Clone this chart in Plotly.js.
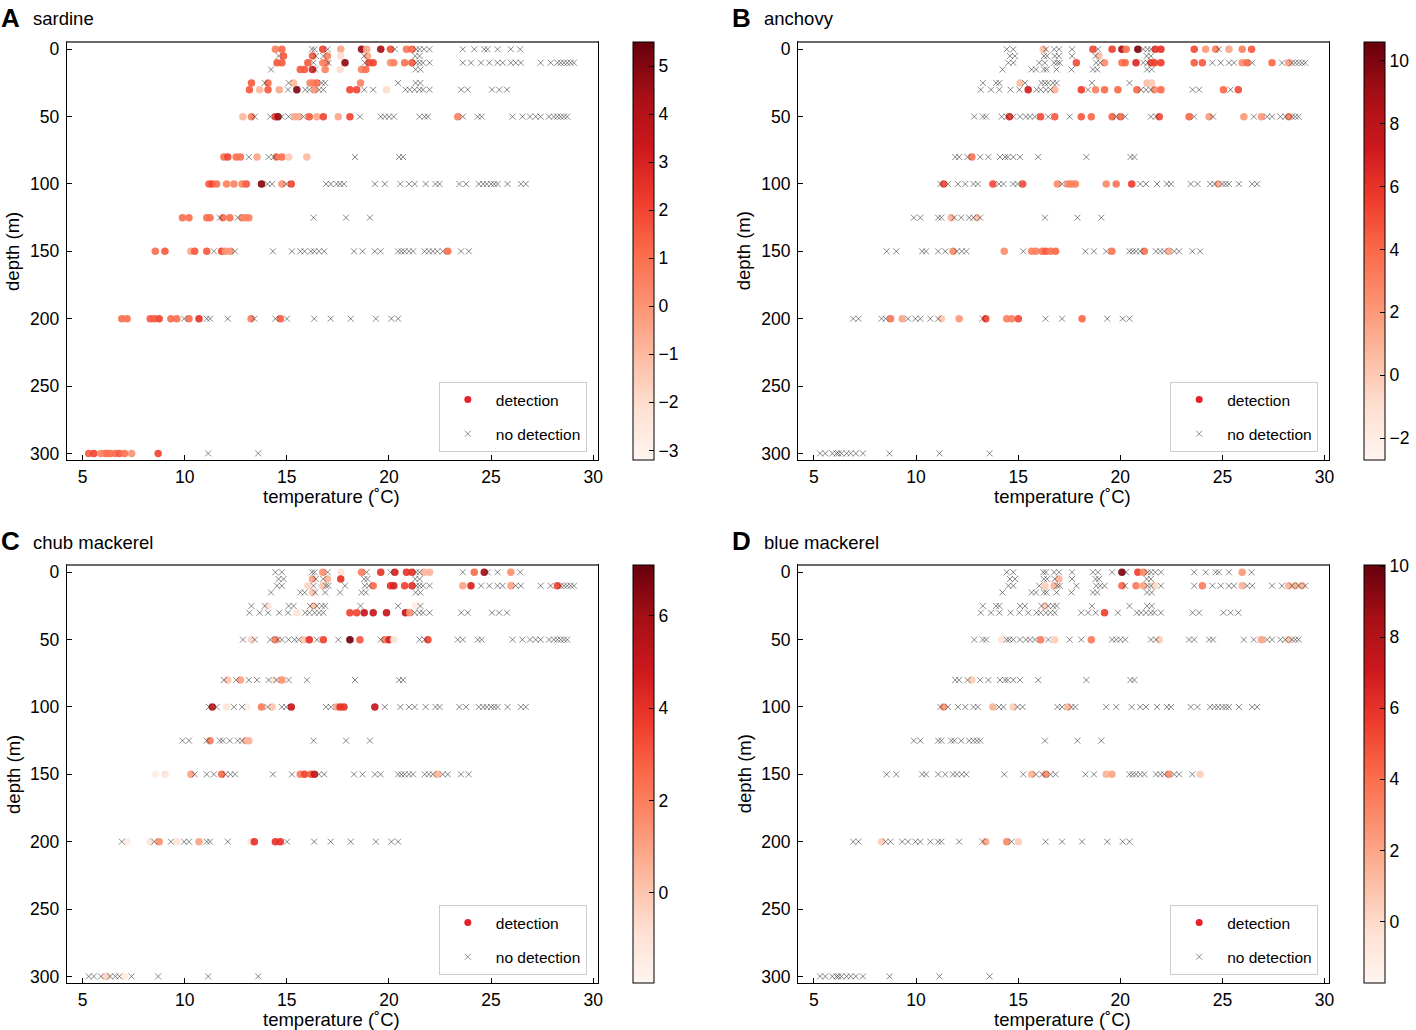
<!DOCTYPE html>
<html><head><meta charset="utf-8">
<script src="https://cdn.plot.ly/plotly-3.0.1.min.js"></script>
<style>html,body{margin:0;padding:0;background:#fff}#chart{width:1416px;height:1030px}</style>
</head><body><div id="chart"></div>
<script>
const _ = null;
// sampling depths (m), one row of samples per depth
const depths = [0,5,10,15,25,30,50,80,100,125,150,200,300];
// temperatures (deg C) of the samples in each depth row
const temperatures = [
 [14.44,14.76,16.23,16.36,16.76,17.0,17.64,18.66,18.91,19.6,20.08,20.29,20.86,21.13,21.34,21.5,21.72,21.99,23.62,24.18,24.67,24.83,25.32,25.97,26.43],
 [14.6,14.84,16.26,16.42,16.79,16.99,17.64,18.79,18.95,21.29,21.5],
 [14.52,14.76,16.03,16.31,16.76,16.92,17.04,17.85,18.82,19.02,19.23,20.08,20.24,20.77,21.13,21.34,21.5,21.67,21.99,23.62,24.02,24.51,24.92,25.32,25.57,25.97,26.21,26.46,27.43,27.92,28.25,28.41,28.57,28.73,28.9,29.06],
 [14.23,15.66,15.87,16.26,16.39,16.88,17.61,18.66,18.87,21.31,21.54],
 [13.27,13.92,14.08,15.09,15.33,16.14,16.31,16.47,16.71,16.88,18.61,20.45,21.31,21.54],
 [13.17,13.67,14.08,14.63,15.06,15.49,15.9,16.1,16.36,16.58,16.79,18.09,18.42,18.79,19.23,19.88,20.81,21.02,21.26,21.5,21.67,21.99,23.54,23.86,25.05,25.4,25.78],
 [12.85,13.27,13.43,14.19,14.44,14.57,14.76,15.09,15.38,15.58,15.82,16.1,16.47,16.79,17.52,18.09,18.58,19.6,19.8,20.01,20.24,21.5,21.75,21.91,23.37,23.62,24.35,24.54,26.05,26.54,26.91,27.19,27.43,27.84,28.08,28.25,28.41,28.57,28.73],
 [11.92,12.11,12.52,12.73,13.14,13.54,14.11,14.36,14.49,14.76,15.09,15.98,18.34,20.5,20.69],
 [11.19,11.35,11.56,12.05,12.41,12.81,13.02,13.76,14.06,14.28,14.76,14.97,15.22,16.92,17.15,17.44,17.61,17.8,19.31,19.8,20.56,20.98,21.26,21.8,22.28,22.48,23.45,23.78,24.4,24.62,24.79,25.0,25.16,25.32,25.81,26.46,26.7],
 [9.89,10.21,11.08,11.24,11.72,11.87,12.21,12.6,12.81,12.98,13.14,16.31,17.9,19.07],
 [8.56,9.03,10.3,10.49,11.08,11.43,11.81,12.0,12.24,12.46,14.32,15.25,15.66,15.87,16.18,16.35,16.58,16.83,18.29,18.71,19.31,19.59,20.45,20.61,20.77,20.98,21.18,21.75,21.96,22.15,22.37,22.64,22.88,23.53,23.91],
 [6.92,7.18,8.31,8.51,8.75,9.32,9.61,9.97,10.21,10.7,11.08,11.24,12.11,13.25,13.41,14.44,14.68,15.01,16.34,17.15,18.13,19.36,20.12,20.45],
 [5.3,5.55,5.9,6.1,6.2,6.35,6.6,6.8,7.05,7.4,8.7,11.15,13.6]
];
// detection values per sample (null / missing = no detection)
const sardine = [
 [0.5,1.2,_,_,2,_,-0.5,4.5,-0.5,4.3,1.8,_,0.8,1.2],
 [_,1.5,1.5,_,_,0.5,-2,_,-0.5],
 [1.5,1.5,1.5,_,0.5,0.5,_,4.8,_,2,2,0,0.5,1,1.5],
 [_,1.5,1.5,3,_,0.5,-2,0.5,1],
 [1.5,_,1,_,-1,0.5,0.5,1,_,_,0.5],
 [1.5,-1,1.5,-0.5,_,5,_,_,0,_,_,2,2,_,_,-2],
 [-1,0.5,_,_,2,4.5,_,_,-0.5,-0.5,_,1.5,-0.5,2,-0.5,2,_,_,_,_,_,_,_,_,0.5],
 [1,2,1,1,_,-0.5,_,_,1,1,-1.5,-1],
 [1.5,2,1,0.5,0.5,0.5,1.5,5,_,_,0,_,2],
 [1,1,1,1,_,1,1,_,0.5,0.5,0.5],
 [1,1.5,-0.5,1.5,1.5,_,2,0,0,_, _,_,_,_,_,_,_,_,_,_, _,_,_,_,_,_,_,_,_,_, _,_,1],
 [1,1,1.5,1.5,2,1,1,_,1,2.5,_,_,_,0.5,_,_,1.5],
 [1.5,2,0.5,0.5,1,1,1,1.5,1,0,2]
];
const anchovy = [
 [_,_,0.5,_,_,_,_,5,_,5.5,8.5,3.5,10,_,_,_,6,6,5,2,3,_,1.5,3,4.5],
 [_,_,_,_,_,_,_,_,0.5],
 [_,_,_,_,_,_,_,5,_,_,2.5,3.5,4,6.5,_,_,5,5.5,5.5,4.5,4.5,_,_,_,_,2.5,4,_,4,_,2],
 [],
 [_,_,_,0.5,_,_,_,_,_,_,_,_,0.5,0],
 [_,_,_,_,_,7,_,_,_,_,1,5.5,_,3,4,4,4,_,_,_,2.5,4,_,_,4,_,5],
 [_,_,_,_,_,6,_,_,_,_,_,5,_,4.5,_,4.5,4,4,_,4,_,_,_,5,4,_,2,_,2,_,2,_,_,_,_,3],
 [_,_,_,3.5],
 [_,5,_,_,_,_,_,5,_,_,_,_,5,2.5,_,3,3,3,2.5,3.5,5.5,_,_,_,_,_,_,_,_,_,1.5],
 [_,_,_,_,1,_,_,_,_,0.5],
 [_,_,_,_,_,_,2.5,_,_,_,2.5,_,3,3,3.5,4.5,3.5,4,_,_,_,3.5,_,_,_,_,3.5,_,_,_,1.5],
 [_,_,_,_,3.5,1.5,_,_,_,_,_,0,2,_,5.5,3,3,5,_,_,4],
 []
];
const chubMackerel = [
 [_,_,_,_,1.5,_,-1,2,_,4,_,4.5,4,4,_,_,0.5,0.5,_,2.5,6,_,_,1.5],
 [_,_,1,_,_,0.5,4],
 [_,_,-0.5,_,0,_,_,_,_,_,2.5,4,4.5,3.5,4,_,_,_,_,1,4.5,_,_,_,_,1,_,_,_,_,3.5],
 [_,_,_,0],
 [_,_,-1,_,_,_,0,_,_,_,_,_,-1.5],
 [_,_,_,_,_,-1,_,_,_,_,_,3.5,3.5,5,5,5,5,1.5],
 [_,-0.5,_,_,2,_,_,_,_,_,0,4,_,3.5,_,7,3,_,2,4.5,-1,_,_,3.5],
 [_,0,_,1,_,_,_,-1,_,1.5],
 [_,5,_,-1,_,_,-1.5,2,_,0,_,_,5,_,_,1,4,4,5],
 [_,_,_,2,_,_,_,_,_,0.5,0.5],
 [-1.5,-1,1,_,_,_,2.5,_,_,_,_,_,2,3.5,3,5,_,_,_,_,_,_,_,_,_,_,_,_,_,_,0.5],
 [_,-1.5,-1,_,1.5,_,-1,_,_,1,_,_,_,-1,4,4,4],
 [_,_,_,-1,-0.5,_,_,_,-1.5]
];
const blueMackerel = [
 [_,_,_,_,_,_,_,_,_,_,9.5,_,5.5,3,_,_,_,_,_,_,_,_,_,2.5],
 [_,_,_,_,_,1.5],
 [_,_,_,0.5,1.5,_,_,_,_,_,_,4,_,3.5,2,_,_,0,_,_,3.5,_,_,_,_,1.5,_,_,_,_,1.5,_,1.5,_,1.5],
 [],
 [_,_,_,_,_,_,0.5],
 [_,_,_,_,_,_,_,_,_,_,_,_,_,_,5.5],
 [_,_,_,-0.5,_,_,_,_,_,_,_,3.5,_,0.5,_,_,3.5,_,_,_,_,_,_,0.5,_,_,_,_,_,_,2,_,_,_,_,1],
 [_,_,_,0.5],
 [_,2.5,_,_,_,_,_,1.5,_,_,0.5,_,_,_,_,1.5],
 [],
 [_,_,_,_,_,_,_,_,_,_,_,_,1.5,_,_,3,_,_,_,_,1.5,2,_,_,_,_,_,_,_,_,3,_,_,_,0.5],
 [_,_,0.5,_,_,_,_,_,_,_,_,_,_,_,2,3,_,0.5],
 []
];
const speciesNames = ['sardine','anchovy','chub mackerel','blue mackerel'];
const panelLetters = ['A','B','C','D'];
const speciesValues = [sardine, anchovy, chubMackerel, blueMackerel];
const colorRanges = [[-3.2,5.5],[-2.7,10.6],[-1.95,7.1],[-1.73,10.03]];
const colorTicks = [[-3,-2,-1,0,1,2,3,4,5],[-2,0,2,4,6,8,10],[0,2,4,6],[0,2,4,6,8,10]];
const xTicks = [5,10,15,20,25,30];
const yTicks = [0,50,100,150,200,250,300];

const W = 1416, H = 1030;
const FONT = 'Liberation Sans, Arial, Helvetica, sans-serif';
const reds = [[0,'#fff5f0'],[0.125,'#fee0d2'],[0.25,'#fcbba1'],[0.375,'#fc9272'],[0.5,'#fb6a4a'],[0.625,'#ef3b2c'],[0.75,'#cb181d'],[0.875,'#a50f15'],[1,'#67000d']];
const px = v => v / W, py = v => 1 - v / H;

const traces = [];
const layout = {
  width: W, height: H, margin: {l:0,r:0,t:0,b:0},
  paper_bgcolor: '#fff', plot_bgcolor: '#fff', showlegend: true,
  font: {family: FONT, color: '#000'},
  annotations: [], shapes: []
};

for (let k = 0; k < 4; k++) {
  const col = k % 2, row = Math.floor(k / 2);
  const ox = col * 735, oy = row * 523;
  const L = 67 + ox, R = 601 + ox, T = 42 + oy, B = 460 + oy;
  const sfx = k === 0 ? '' : String(k + 1);
  const xa = 'x' + sfx, ya = 'y' + sfx;
  const legName = 'legend' + sfx;

  const detX = [], detY = [], detC = [], noX = [], noY = [];
  depths.forEach((d, r) => {
    temperatures[r].forEach((t, i) => {
      const v = speciesValues[k][r][i];
      if (v === undefined || v === null) { noX.push(t); noY.push(d); }
      else { detX.push(t); detY.push(d); detC.push(v); }
    });
  });

  traces.push({
    type: 'scatter', mode: 'markers', x: detX, y: detY, xaxis: xa, yaxis: ya,
    showlegend: false, hoverinfo: 'skip',
    marker: {
      size: 7.5, color: detC, cmin: colorRanges[k][0], cmax: colorRanges[k][1],
      colorscale: reds, opacity: 0.92, line: {width: 0}, showscale: true,
      colorbar: {
        x: px(636 + ox), xanchor: 'left', xref: 'paper',
        y: py((T + B) / 2), yanchor: 'middle', yref: 'paper',
        len: B - T, lenmode: 'pixels', thickness: 21, thicknessmode: 'pixels',
        xpad: 0, ypad: 0, outlinewidth: 1, outlinecolor: '#000',
        tickvals: colorTicks[k], ticks: 'inside', ticklen: 5, tickcolor: '#000',
        tickfont: {family: FONT, size: 17.5, color: '#000'}
      }
    }
  });
  traces.push({
    type: 'scatter', mode: 'markers', x: noX, y: noY, xaxis: xa, yaxis: ya,
    showlegend: false, hoverinfo: 'skip',
    marker: {symbol: 'x-thin', size: 6, color: 'rgba(40,40,40,0.55)', line: {color: 'rgba(40,40,40,0.55)', width: 1}}
  });
  // legend entries
  traces.push({
    type: 'scatter', mode: 'markers', x: [null], y: [null], xaxis: xa, yaxis: ya,
    name: 'detection', legend: legName, legendgroup: 'det' + k,
    marker: {size: 7, color: '#e8202a'}
  });
  traces.push({
    type: 'scatter', mode: 'markers', x: [null], y: [null], xaxis: xa, yaxis: ya,
    name: 'no detection', legend: legName, legendgroup: 'nodet' + k,
    marker: {symbol: 'x-thin', size: 6, color: 'rgba(40,40,40,0.5)', line: {color: 'rgba(40,40,40,0.5)', width: 1}}
  });

  layout[legName] = {
    x: px(441 + ox), y: py(382 + oy), xanchor: 'left', yanchor: 'top',
    xref: 'paper', yref: 'paper', bgcolor: '#fff', bordercolor: '#cccccc', borderwidth: 1,
    font: {family: FONT, size: 15.5, color: '#000'}, tracegroupgap: 11, itemwidth: 46,
    entrywidth: 106, entrywidthmode: 'pixels'
  };

  const axisBase = {
    showline: true, linecolor: '#000', linewidth: 1, mirror: true,
    showgrid: false, zeroline: false, ticks: 'inside', ticklen: 5, tickcolor: '#000',
    tickfont: {family: FONT, size: 17.5, color: '#000'}
  };
  layout['xaxis' + sfx] = Object.assign({}, axisBase, {
    domain: [px(L), px(R)], anchor: ya, range: [4.22, 30.24], tickvals: xTicks, ticklabelstandoff: 1
  });
  layout['yaxis' + sfx] = Object.assign({}, axisBase, {
    domain: [py(B), py(T)], anchor: xa, range: [304.9, -5.4], tickvals: yTicks, ticklabelstandoff: 3
  });

  // grey top spine as in reference
  layout.shapes.push({type: 'line', xref: 'paper', yref: 'paper', x0: px(L), x1: px(R), y0: py(T), y1: py(T), line: {color: '#6a6a6a', width: 2}});

  layout.annotations.push(
    {xref: 'paper', yref: 'paper', x: px(333 + ox), y: py(B + 36), text: 'temperature (˚C)', showarrow: false,
     xanchor: 'center', yanchor: 'middle', font: {family: FONT, size: 18.5, color: '#000'}},
    {xref: 'paper', yref: 'paper', x: px(13 + ox), y: py((T + B) / 2), text: 'depth (m)', showarrow: false, textangle: -90,
     xanchor: 'center', yanchor: 'middle', font: {family: FONT, size: 18.5, color: '#000'}},
    {xref: 'paper', yref: 'paper', x: px(-1 + ox), y: py(18 + oy), text: '<b>' + panelLetters[k] + '</b>', showarrow: false,
     xanchor: 'left', yanchor: 'middle', font: {family: FONT, size: 26, color: '#000'}},
    {xref: 'paper', yref: 'paper', x: px(31 + ox), y: py(19 + oy), text: speciesNames[k], showarrow: false,
     xanchor: 'left', yanchor: 'middle', font: {family: FONT, size: 18.5, color: '#000'}}
  );
}

Plotly.newPlot('chart', traces, layout, {staticPlot: true, displayModeBar: false});
</script>
</body></html>
